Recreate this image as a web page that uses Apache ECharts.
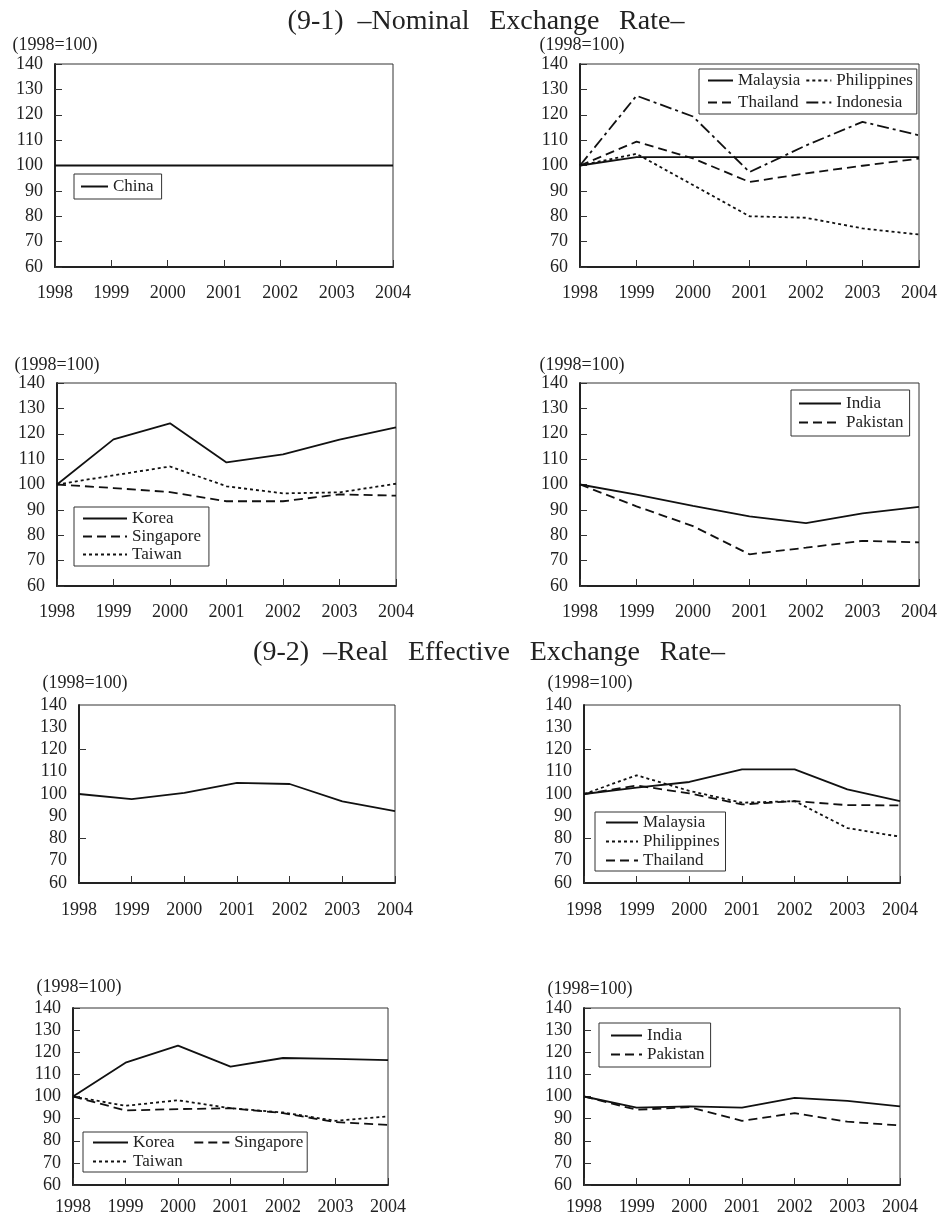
<!DOCTYPE html>
<html>
<head>
<meta charset="utf-8">
<script src="https://cdn.jsdelivr.net/npm/echarts@6/dist/echarts.min.js"></script>
<style>
html, body { margin: 0; padding: 0; background: #fff; }
#main { width: 938px; height: 1213px; }
</style>
</head>
<body>
<div id="main"></div>
<script>
var years = ['1998', '1999', '2000', '2001', '2002', '2003', '2004'];

// (9-1) nominal exchange rate, 1998=100
var nomChina       = [100, 100, 100, 100, 100, 100, 100];
var nomMalaysia    = [100, 103.3, 103.3, 103.3, 103.3, 103.3, 103.3];
var nomPhilippines = [100, 104.6, 92.3, 80.0, 79.4, 75.2, 72.8];
var nomThailand    = [100, 109.4, 102.8, 93.5, 96.9, 99.9, 102.7];
var nomIndonesia   = [100, 127.5, 119.3, 97.4, 107.9, 117.2, 111.9];
var nomKorea       = [100, 117.8, 124.1, 108.7, 111.9, 117.7, 122.5];
var nomSingapore   = [100, 98.6, 97.0, 93.4, 93.4, 96.1, 95.6];
var nomTaiwan      = [100, 103.6, 107.1, 99.3, 96.5, 96.9, 100.3];
var nomIndia       = [100, 96.0, 91.6, 87.4, 84.8, 88.6, 91.2];
var nomPakistan    = [100, 91.4, 83.6, 72.5, 75.1, 77.8, 77.2];

// (9-2) real effective exchange rate, 1998=100
var reerChina       = [100, 97.7, 100.5, 105.0, 104.5, 96.7, 92.3];
var reerMalaysia    = [100, 102.9, 105.4, 111.1, 111.1, 102.1, 96.8];
var reerPhilippines = [100, 108.4, 101.4, 96.1, 96.8, 84.7, 80.8];
var reerThailand    = [100, 103.8, 100.3, 95.3, 96.8, 95.0, 94.9];
var reerKorea       = [100, 115.3, 123.0, 113.5, 117.4, 117.0, 116.4];
var reerSingapore   = [100, 93.7, 94.3, 94.7, 92.5, 88.4, 87.2];
var reerTaiwan      = [100, 95.8, 98.3, 94.7, 92.8, 89.0, 91.0];
var reerIndia       = [100, 95.0, 95.5, 95.0, 99.4, 98.0, 95.5];
var reerPakistan    = [100, 94.0, 95.2, 89.0, 92.5, 88.6, 86.9];

var yTicks = { min: 60, max: 140, step: 10 };
var sparseTicks = [80, 120]; // the two upper panels of 9-2 only show these
var unitLabel = '(1998=100)';

var myChart = echarts.init(document.getElementById('main'));

var font = 'Liberation Serif';
var ink = '#222';
var SOLID = 'solid', DASH = [9, 5], DOT = [3, 3], DASHDOT = [12, 4, 3, 4];

// box = [left, top, width, height]
var panels = [
    { box: [55, 64, 338, 203], nameGap: 10, nameShift: 0, xGap: 17,
      lines: [['China', nomChina, SOLID]],
      legend: { left: 74, top: 174, itemWidth: 27, itemGap: 2, padding: [4, 8, 4, 6], data: ['China'] } },
    { box: [580, 64, 339, 203], nameGap: 10, nameShift: 4, xGap: 17,
      lines: [['Malaysia', nomMalaysia, SOLID], ['Philippines', nomPhilippines, DOT],
              ['Thailand', nomThailand, DASH], ['Indonesia', nomIndonesia, DASHDOT]],
      legend: { left: 699, top: 69, height: 42, itemWidth: 25, itemGap: 5, padding: [3, 4, 3, 8],
                data: ['Malaysia', 'Thailand', 'Philippines', 'Indonesia'] } },
    { box: [57, 383, 339, 203], nameGap: 9, nameShift: 0, xGap: 17,
      lines: [['Korea', nomKorea, SOLID], ['Singapore', nomSingapore, DASH], ['Taiwan', nomTaiwan, DOT]],
      legend: { left: 74, top: 507, itemWidth: 44, itemGap: 1, padding: [3, 8, 3, 8],
                data: ['Korea', 'Singapore', 'Taiwan'] } },
    { box: [580, 383, 339, 203], nameGap: 9, nameShift: 4, xGap: 17,
      lines: [['India', nomIndia, SOLID], ['Pakistan', nomPakistan, DASH]],
      legend: { left: 791, top: 390, itemWidth: 42, itemGap: 2, padding: [5, 6, 5, 7],
                data: ['India', 'Pakistan'] } },
    { box: [79, 705, 316, 178], nameGap: 13, nameShift: 12, xGap: 18, ticks: sparseTicks,
      lines: [['China', reerChina, SOLID]] },
    { box: [584, 705, 316, 178], nameGap: 13, nameShift: 12, xGap: 18, ticks: sparseTicks,
      lines: [['Malaysia', reerMalaysia, SOLID], ['Philippines', reerPhilippines, DOT], ['Thailand', reerThailand, DASH]],
      legend: { left: 595, top: 812, itemWidth: 32, itemGap: 2, padding: [2, 6, 2, 10],
                data: ['Malaysia', 'Philippines', 'Thailand'] } },
    { box: [73, 1008, 315, 177], nameGap: 12, nameShift: 12, xGap: 13,
      lines: [['Korea', reerKorea, SOLID], ['Singapore', reerSingapore, DASH], ['Taiwan', reerTaiwan, DOT]],
      legend: { left: 83, top: 1132, height: 38, itemWidth: 35, itemGap: 2, padding: [2, 4, 2, 9],
                padCol: true, data: ['Korea', 'Taiwan', 'Singapore'] } },
    { box: [584, 1008, 316, 177], nameGap: 10, nameShift: 12, xGap: 13,
      lines: [['India', reerIndia, SOLID], ['Pakistan', reerPakistan, DASH]],
      legend: { left: 599, top: 1023, itemWidth: 31, itemGap: 2, padding: [4, 6, 4, 11],
                data: ['India', 'Pakistan'] } }
];

var grids = [], xAxes = [], yAxes = [], series = [], legends = [];

panels.forEach(function (p, i) {
    grids.push({
        left: p.box[0], top: p.box[1], width: p.box[2], height: p.box[3],
        show: true, borderColor: '#333', borderWidth: 1,
        outerBoundsMode: 'none', containLabel: false
    });
    xAxes.push({
        type: 'category', gridIndex: i, data: years, boundaryGap: false,
        axisLine: { lineStyle: { color: '#222', width: 2 } },
        axisTick: { inside: true, length: 7, lineStyle: { color: '#333' } },
        axisLabel: { interval: 0, margin: p.xGap, color: ink, fontFamily: font, fontSize: 18 },
        splitLine: { show: false }
    });
    var yTick = { show: true, inside: true, length: 7, lineStyle: { color: '#333' } };
    if (p.ticks) yTick.customValues = p.ticks;
    yAxes.push({
        type: 'value', gridIndex: i, min: yTicks.min, max: yTicks.max, interval: yTicks.step,
        name: unitLabel, nameLocation: 'end', nameGap: p.nameGap,
        nameTextStyle: { color: ink, fontFamily: font, fontSize: 18, align: 'center',
                         verticalAlign: 'bottom', padding: [0, 0, 0, p.nameShift] },
        axisLine: { show: true, lineStyle: { color: '#222', width: 2 } },
        axisTick: yTick,
        axisLabel: { margin: 12, color: ink, fontFamily: font, fontSize: 18 },
        splitLine: { show: false }
    });
    p.lines.forEach(function (l) {
        series.push({
            name: l[0], type: 'line', xAxisIndex: i, yAxisIndex: i, data: l[1],
            symbol: 'none', color: '#111', silent: true,
            lineStyle: { color: '#111', width: 1.8, type: l[2] }
        });
    });
    if (p.legend) {
        var lg = p.legend;
        var item = {
            left: lg.left, top: lg.top, height: lg.height, orient: 'vertical',
            itemWidth: lg.itemWidth, itemHeight: 14, itemGap: lg.itemGap, padding: lg.padding,
            borderColor: '#333', borderWidth: 1, backgroundColor: '#fff',
            selectedMode: false, data: lg.data,
            itemStyle: { opacity: 0 },
            textStyle: { color: ink, fontFamily: font, fontSize: 17 }
        };
        if (lg.padCol) {
            // widen the first column a little so the second one starts further right
            var last = lg.data[lg.data.length - 1];
            item.formatter = function (name) { return name === last ? name : name + '  '; };
        }
        legends.push(item);
    }
});

var titleStyle = { fontFamily: font, fontSize: 28, fontWeight: 'normal', color: ink };

var option = {
    animation: false,
    backgroundColor: '#fff',
    title: [
        { text: '(9-1)  \u2013Nominal  \u2009Exchange  \u2009Rate\u2013', left: 486, top: 8, textAlign: 'center',
          padding: 0, textStyle: titleStyle },
        { text: '(9-2)  \u2013Real  \u2009Effective  \u2009Exchange  \u2009Rate\u2013', left: 489, top: 639, textAlign: 'center',
          padding: 0, textStyle: titleStyle }
    ],
    legend: legends,
    grid: grids,
    xAxis: xAxes,
    yAxis: yAxes,
    series: series
};

myChart.setOption(option);
</script>
</body>
</html>
